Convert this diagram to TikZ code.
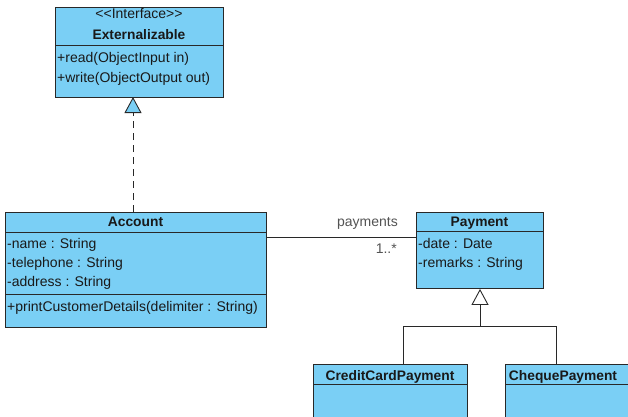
\documentclass[tikz,border=0pt]{standalone}
\usepackage{fontspec}
\setmainfont{Liberation Sans}
\usetikzlibrary{arrows.meta}
\definecolor{classblue}{RGB}{122,207,245}
\definecolor{linegray}{RGB}{40,40,40}
\definecolor{txt}{RGB}{25,25,25}
\begin{document}
\begin{tikzpicture}[x=1pt,y=-1pt,
  font=\fontsize{14}{16}\selectfont,
  classbox/.style={draw=linegray, line width=0.9pt, fill=classblue, rectangle, inner sep=0pt, anchor=north west},
  sep/.style={draw=linegray, line width=0.9pt},
  attr/.style={anchor=base west, inner sep=0pt, text=txt},
  title/.style={anchor=base, inner sep=0pt, text=txt, font=\fontsize{13.8}{16}\selectfont\bfseries},
  stereo/.style={anchor=base, inner sep=0pt, text=txt},
  conn/.style={draw=linegray, line width=0.9pt},
  lbl/.style={inner sep=0pt, text=linegray!80}
]
\useasboundingbox (0,0) rectangle (628,416);
\clip (0,0) rectangle (628,416);

% Externalizable
\node[classbox, minimum width=168pt, minimum height=90pt] (ext) at (55,7) {};
\draw[sep] (55,45) -- (223,45);
\node[stereo] (extst) at (139,18) {{<}{<}Interface{>}{>}};
\node[title] (extt) at (139,39) {Externalizable};
\node[attr] (extm1) at (57,62) {+read(ObjectInput in)};
\node[attr] (extm2) at (57,82) {+write(ObjectOutput out)};

% Account
\node[classbox, minimum width=261pt, minimum height=115pt] (acc) at (5,212) {};
\draw[sep] (5,232) -- (266,232);
\draw[sep] (5,294) -- (266,294);
\node[title] (acct) at (135.5,226) {Account};
\node[attr] (acca1) at (7,248) {-name : String};
\node[attr] (acca2) at (7,267) {-telephone : String};
\node[attr] (acca3) at (7,286) {-address : String};
\node[attr] (accm1) at (7,311) {+printCustomerDetails(delimiter : String)};

% Payment
\node[classbox, minimum width=127pt, minimum height=76pt] (pay) at (416,212) {};
\draw[sep] (416,231) -- (543,231);
\node[title] (payt) at (479.5,226) {Payment};
\node[attr] (paya1) at (418,248) {-date : Date};
\node[attr] (paya2) at (418,267) {-remarks : String};

% Subclasses
\node[classbox, minimum width=154pt, minimum height=70pt] (cc) at (313,364) {};
\draw[sep] (313,384) -- (467,384);
\node[title] (cct) at (390,380) {CreditCardPayment};
\node[classbox, minimum width=154pt, minimum height=70pt] (cq) at (505,364) {};
\draw[sep] (505,384) -- (659,384);
\node[title] (cqt) at (563,380) {ChequePayment};

% Realization
\coordinate (extB) at (133,97);
\coordinate (accT) at (133,212);
\draw[conn, dash pattern=on 7pt off 5pt,
  -{Triangle[length=16pt, width=17pt, fill=classblue, line width=0.9pt]}]
  (accT) -- (extB);

% Association
\coordinate (accR) at (266,237);
\coordinate (payL) at (416,237);
\draw[conn] (accR) -- (payL);
\node[lbl, anchor=base east] (assocname) at (398,226) {payments};
\node[lbl, anchor=base east] (mult) at (397,253) {1..*};

% Generalization
\coordinate (gj) at (480,326);
\coordinate (ccT) at (403,364);
\coordinate (cqT) at (556,364);
\draw[conn] (ccT) |- (gj) -| (cqT);
\draw[conn, -{Triangle[length=16pt, width=17pt, fill=white, line width=0.9pt]}]
  (gj) -- (gj |- pay.south);
\end{tikzpicture}
\end{document}
